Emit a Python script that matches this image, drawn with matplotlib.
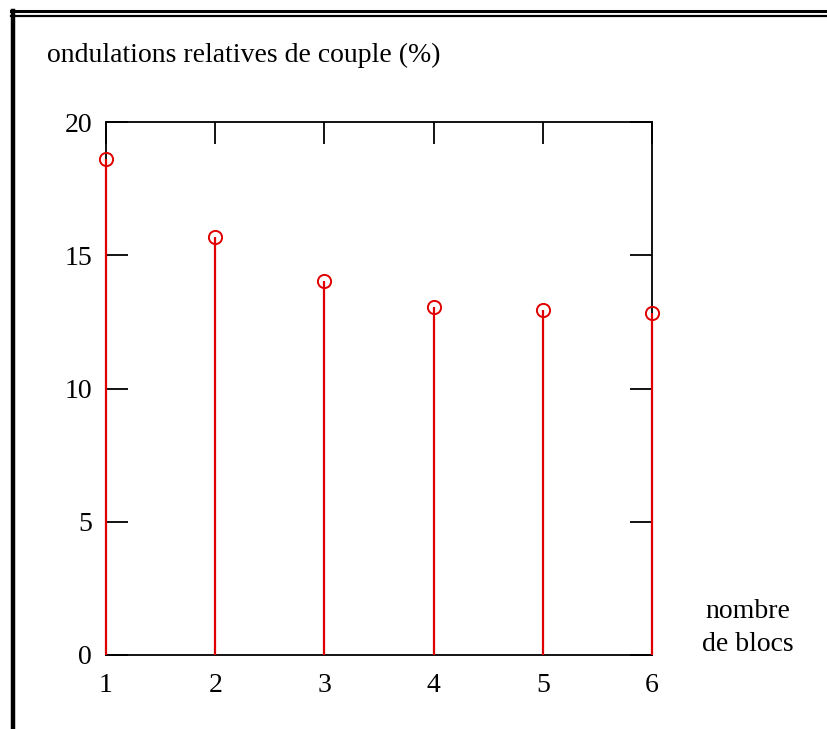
import matplotlib
matplotlib.use("Agg")
import matplotlib.pyplot as plt
from matplotlib.lines import Line2D

blocs = [1, 2, 3, 4, 5, 6]
ondulations = [18.6, 15.7, 14.03, 13.06, 12.95, 12.83]
yticks = [0, 5, 10, 15, 20]

plt.rcParams["font.family"] = ["Liberation Serif", "DejaVu Serif"]

fig = plt.figure(figsize=(8.27, 7.29), dpi=100)
W, H = 827, 729
ax = fig.add_axes([106 / W, 1 - 655 / H, (652 - 106) / W, (655 - 122) / H])

ax.vlines(blocs, 0, ondulations, color="#e00000", lw=1.6, zorder=3,
          clip_on=False)
ax.plot(blocs, ondulations, "o", mfc="none", mec="#e00000", ms=9.5, mew=1.4,
        zorder=4, clip_on=False)

ax.set_xlim(1, 6)
ax.set_ylim(0, 20)
ax.set_xticks(blocs)
ax.set_yticks(yticks)
ax.tick_params(direction="in", length=16, width=1.3, labelsize=20,
               top=True, right=True, pad=10)
ax.tick_params(axis="x", pad=13)
for s in ax.spines.values():
    s.set_linewidth(1.3)

fig.text(47 / W, 1 - 55 / H, "ondulations relatives de couple (%)",
         fontsize=20, ha="left", va="center")
fig.text(748 / W, 1 - 628 / H, "nombre\nde blocs", fontsize=20,
         ha="center", va="center", linespacing=1.45)

# page frame: double rule on top, heavy rule on the left
fig.add_artist(Line2D([11 / W, 1], [1 - 11 / H] * 2, color="black", lw=2.2,
                      transform=fig.transFigure))
fig.add_artist(Line2D([11 / W, 1], [1 - 15.5 / H] * 2, color="black", lw=1.6,
                      transform=fig.transFigure))
fig.add_artist(Line2D([13 / W] * 2, [0, 1 - 11 / H], color="black", lw=3.2,
                      transform=fig.transFigure))

fig.savefig("out.png", dpi=100)
